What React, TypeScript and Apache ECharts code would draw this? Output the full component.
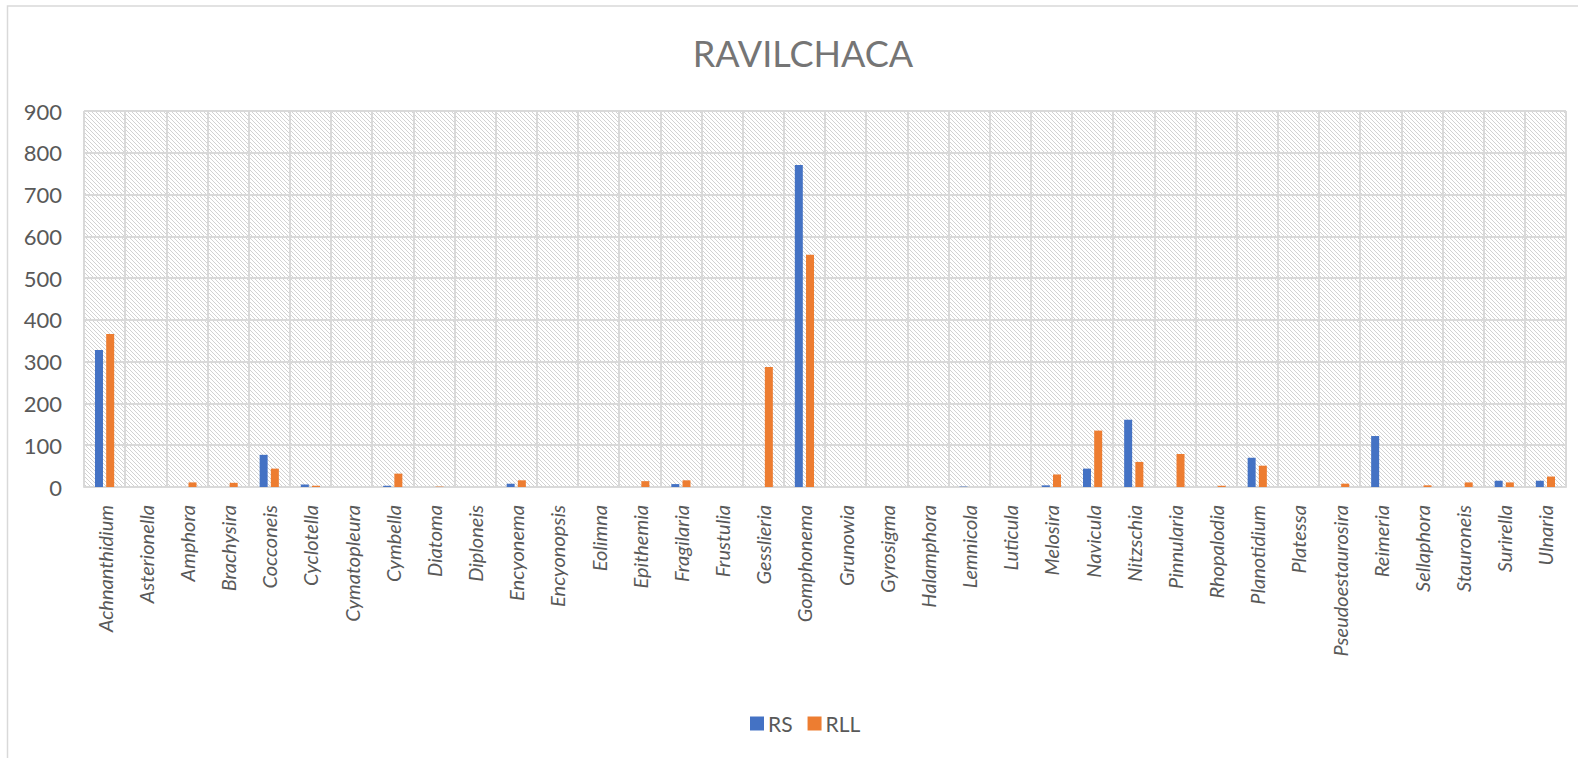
import React, { useEffect, useRef } from "react";
import * as echarts from "echarts";

const categories = [
  "Achnanthidium", "Asterionella", "Amphora", "Brachysira", "Cocconeis", "Cyclotella",
  "Cymatopleura", "Cymbella", "Diatoma", "Diploneis", "Encyonema", "Encyonopsis",
  "Eolimna", "Epithemia", "Fragilaria", "Frustulia", "Gesslieria", "Gomphonema",
  "Grunowia", "Gyrosigma", "Halamphora", "Lemnicola", "Luticula", "Melosira",
  "Navicula", "Nitzschia", "Pinnularia", "Rhopalodia", "Planotidium", "Platessa",
  "Pseudoestaurosira", "Reimeria", "Sellaphora", "Stauroneis", "Surirella", "Ulnaria",
];

const rsValues = [
  328, 0, 0, 0, 77, 6, 0, 3, 0, 0, 8, 0, 0, 0, 7, 0, 0, 771,
  0, 0, 0, 1, 0, 4, 44, 161, 0, 0, 70, 0, 0, 122, 0, 0, 15, 15,
];

const rllValues = [
  366, 0, 11, 10, 44, 3, 0, 32, 1, 0, 16, 0, 0, 14, 16, 0, 287, 556,
  0, 0, 0, 0, 0, 30, 135, 60, 79, 3, 51, 0, 8, 0, 4, 11, 11, 25,
];

const seriesNames = ["RS", "RLL"];
const yTicks = { min: 0, max: 900, interval: 100 };

const FONT = "Lato, 'Open Sans', sans-serif";
const TEXT_GREY = "#595959";
const GRID_GREY = "#d9d9d9";

// Light diagonal hatch used as the plot-area fill
function makeHatchTile(): HTMLCanvasElement {
  const c = document.createElement("canvas");
  c.width = 4;
  c.height = 4;
  const ctx = c.getContext("2d")!;
  ctx.fillStyle = "#ffffff";
  ctx.fillRect(0, 0, 4, 4);
  ctx.fillStyle = "#d2d2d2";
  for (let i = 0; i < 4; i++) ctx.fillRect(i, i, 1, 1);
  return c;
}

export default function App() {
  const ref = useRef<HTMLDivElement>(null);

  useEffect(() => {
    if (!ref.current) return;
    const chart = echarts.init(ref.current, undefined, { renderer: "svg" });
    const tile = makeHatchTile();

    chart.setOption({
      animation: false,
      backgroundColor: "#ffffff",
      title: {
        text: "RAVILCHACA",
        left: 798,
        top: 30,
        textAlign: "center",
        textStyle: {
          fontFamily: FONT,
          fontWeight: "normal",
          fontSize: 36,
          color: "#757575",
        },
      },
      legend: {
        data: seriesNames,
        left: 750,
        top: 713,
        padding: 0,
        itemWidth: 14,
        itemHeight: 14,
        itemGap: 15,
        icon: "rect",
        textStyle: { fontFamily: FONT, fontSize: 21, color: TEXT_GREY, padding: [0, 0, 0, -1] },
      },
      graphic: [
        {
          type: "rect",
          shape: { x: 7.5, y: 6, width: 1700, height: 900 },
          style: { fill: "none", stroke: GRID_GREY, lineWidth: 1.5 },
          silent: true,
          z: 100,
        },
      ],
      grid: {
        left: 84,
        right: 12,
        top: 111,
        bottom: 271,
        show: true,
        borderWidth: 0,
        backgroundColor: { image: tile, repeat: "repeat" },
      },
      xAxis: {
        type: "category",
        data: categories,
        axisTick: { show: false },
        axisLine: { show: true, lineStyle: { color: GRID_GREY, width: 2 } },
        splitLine: { show: true, interval: 0, lineStyle: { color: GRID_GREY, width: 2 } },
        axisLabel: {
          interval: 0,
          rotate: 90,
          margin: 18,
          fontFamily: FONT,
          fontStyle: "italic",
          fontSize: 20,
          color: TEXT_GREY,
        },
      },
      yAxis: {
        type: "value",
        min: yTicks.min,
        max: yTicks.max,
        interval: yTicks.interval,
        axisLine: { show: false },
        axisTick: { show: false },
        splitLine: { show: true, lineStyle: { color: GRID_GREY, width: 2 } },
        axisLabel: { margin: 22, fontFamily: FONT, fontSize: 22, color: TEXT_GREY },
      },
      series: [
        {
          name: seriesNames[0],
          type: "bar",
          data: rsValues,
          barWidth: 8,
          barGap: "40%",
          itemStyle: { color: "#4472C4" },
        },
        {
          name: seriesNames[1],
          type: "bar",
          data: rllValues,
          barWidth: 8,
          barGap: "40%",
          itemStyle: { color: "#ED7D31" },
        },
      ],
    });

    return () => chart.dispose();
  }, []);

  return (
    <div
      ref={ref}
      style={{ position: "fixed", left: 0, top: 0, width: 1578, height: 758 }}
    />
  );
}
